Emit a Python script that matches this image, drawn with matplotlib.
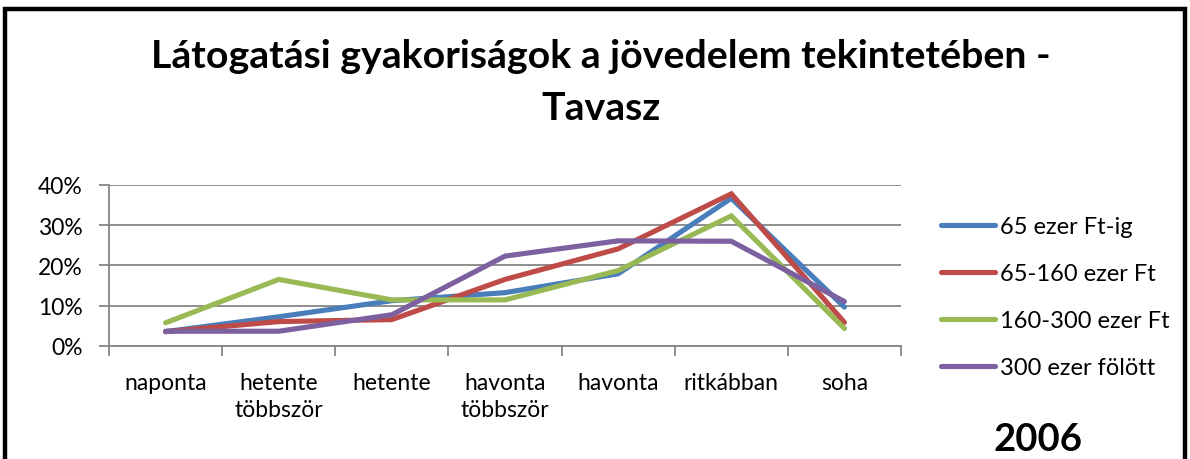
import matplotlib
matplotlib.use("Agg")
import matplotlib.pyplot as plt
from matplotlib.patches import Rectangle
import numpy as np

categories = ["naponta", "hetente\ntöbbször", "hetente", "havonta\ntöbbször",
              "havonta", "ritkábban", "soha"]
series_names = ["65 ezer Ft-ig", "65-160 ezer Ft", "160-300 ezer Ft", "300 ezer fölött"]
s_65 = [3.5, 7.2, 11.2, 13.2, 17.9, 36.7, 9.6]
s_65_160 = [3.5, 6.0, 6.5, 16.5, 24.1, 37.8, 5.8]
s_160_300 = [5.7, 16.5, 11.4, 11.4, 18.7, 32.3, 4.3]
s_300 = [3.6, 3.6, 7.7, 22.3, 26.1, 26.0, 11.0]
yticks = [0, 10, 20, 30, 40]
colors = ["#4A7EBB", "#BE4B48", "#98B954", "#7D60A0"]

plt.rcParams['font.family'] = ['Lato', 'DejaVu Sans']

W, H = 1190, 460
fig = plt.figure(figsize=(W / 100, H / 100), dpi=100)

def fx(x):
    return x / W

def fy(y):
    return 1 - y / H

# outer frame
fig.patches.append(Rectangle((fx(5), fy(500)), fx(1180), 500 / H - 9.5 / H,
                             transform=fig.transFigure, fill=False,
                             edgecolor="black", linewidth=3.2))

ax = fig.add_axes([fx(109), fy(346.7), fx(901 - 109), (346.7 - 186) / H])
x = np.arange(len(categories))
for vals, name, c in zip([s_65, s_65_160, s_160_300, s_300], series_names, colors):
    ax.plot(x, vals, color=c, lw=3.7, label=name, solid_joinstyle='miter', solid_capstyle='round')

ax.set_xlim(-0.5, len(categories) - 0.5)
ax.set_ylim(0, 40)
ax.set_yticks(yticks)
ax.set_yticklabels([f"{v}%" for v in yticks])
ax.yaxis.grid(True, color="#868686", lw=1.3)
ax.set_axisbelow(True)
for s in ["top", "right"]:
    ax.spines[s].set_visible(False)
for s in ["left", "bottom"]:
    ax.spines[s].set_color("#868686")
    ax.spines[s].set_linewidth(1.3)
ax.set_xticks(x)
ax.set_xticklabels(categories, fontsize=16.5, linespacing=1.35, va='top')
ax.tick_params(axis='x', which='major', length=0, pad=19)
ax.set_xticks(np.arange(-0.5, len(categories), 1), minor=True)
ax.tick_params(axis='x', which='minor', length=7, width=1.3, color="#868686", direction='out')
ax.tick_params(axis='y', length=7, width=1.3, color="#868686", labelsize=16.5, pad=12)

fig.text(fx(601), fy(57), "Látogatási gyakoriságok a jövedelem tekintetében -",
         ha='center', va='center', fontsize=28.3, fontweight='bold')
fig.text(fx(601), fy(108), "Tavasz", ha='center', va='center', fontsize=28.3, fontweight='bold')
fig.text(fx(1038), fy(440), "2006", ha='center', va='center', fontsize=27.5, fontweight='bold')

leg = fig.legend(loc='upper left', bbox_to_anchor=(fx(941), fy(217)), frameon=False,
                 fontsize=17, handlelength=2.3, handletextpad=0.2, labelspacing=1.1,
                 borderaxespad=0, borderpad=0)

fig.savefig("out.png", dpi=100)
